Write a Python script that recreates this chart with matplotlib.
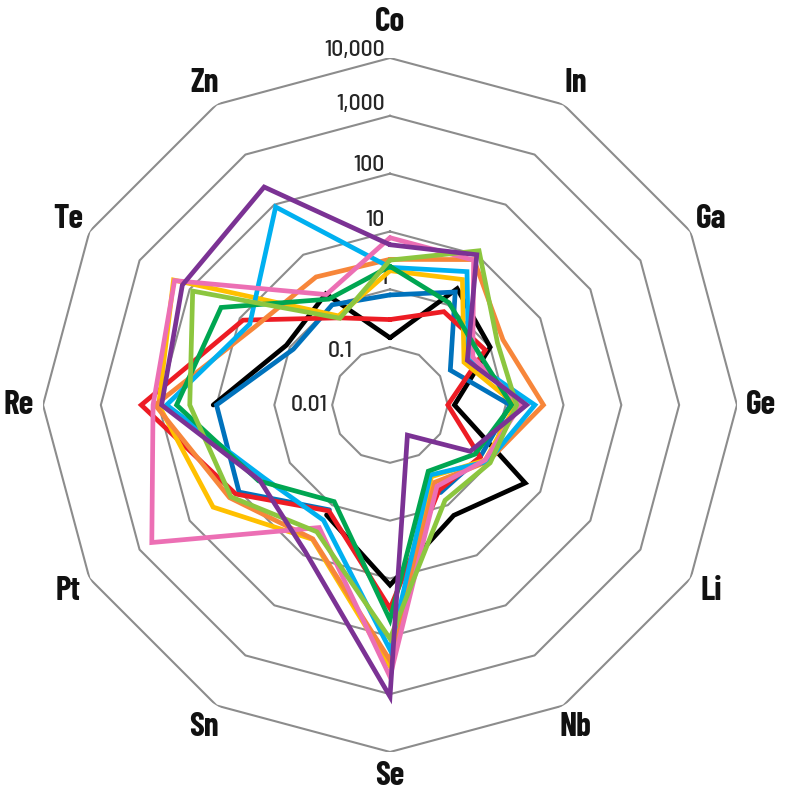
import numpy as np
import matplotlib
matplotlib.use("Agg")
import matplotlib.pyplot as plt

# axes, clockwise from the top
elementos = ["Co", "In", "Ga", "Ge", "Li", "Nb", "Se", "Sn", "Pt", "Re", "Te", "Zn"]

# values per series (nan = no value, the line is broken there)
morado = [5.9, 10, 0.35, 2.3, 0.4, 0.04, 1100, 8.5, 4.0, 89, 140, 225]
celeste = [2.4, 4.6, 0.37, 3.2, 0.9, 0.25, 170, 2.0, 3.3, 73, 6.3, 90]
rosa = [7.8, 7.8, 0.45, 1.8, 0.8, 0.42, 500, 2.8, 570, 125, 200, 1.6]
naranja = [3.3, 8.0, 1.8, 4.5, 0.9, 0.35, 260, 4.7, 16, 115, 5.0, 3.6]
amarillo = [2.1, 3.2, 0.3, 1.5, 0.8, 0.27, 330, 4.8, 34, 100, 210, 0.6]
rojo = [0.3, 0.73, 0.8, 0.1, 0.63, 0.5, 33, 1.3, 12, 200, 8.6, 0.55]
negro = [0.145, 2.1, 1.0, 0.13, 5.0, 1.6, 13, 1.57, np.nan, 11.4, 1.17, 1.66]
azul = [0.8, 1.8, 0.16, 1.2, 0.63, 0.56, np.nan, 1.24, 10.3, 10, 0.85, 1.0]
verde_osc = [2.5, 1.1, 0.6, 1.27, 0.5, 0.21, 52, 0.85, 4.2, 49, 23.6, 1.3]
verde_cla = [3.2, 12, 1.4, 1.55, 1.0, 0.8, 110, 3.4, 15, 29, 87, 0.54]

# ring values and their labels
anillos = [0.01, 0.1, 1, 10, 100, 1000, 10000]
etiquetas_anillos = ["0.01", "0.1", "1", "10", "100", "1,000", "10,000"]

series = [
    (negro, "#000000"),
    (azul, "#0072BC"),
    (rojo, "#ED1C24"),
    (amarillo, "#FFC000"),
    (naranja, "#F7863A"),
    (celeste, "#00B0F0"),
    (rosa, "#EC6FB4"),
    (verde_osc, "#00A651"),
    (verde_cla, "#8CC63F"),
    (morado, "#7B3294"),
]

# narrow fonts, DejaVu (condensed) if missing
fuente_cat = ["Barlow Condensed", "DejaVu Sans"]
fuente_num = ["Barlow Semi Condensed", "DejaVu Sans"]

n = len(elementos)
angulos = np.arange(n) * 2 * np.pi / n
ang_cerrado = np.append(angulos, angulos[0])
r_min = np.log10(anillos[0])


def a_radio(valores):
    return np.log10(np.array(valores, dtype=float)) - r_min


fig = plt.figure(figsize=(8, 7.92), dpi=100)
ax = fig.add_axes([0.05375, 0.0505, 0.8675, 0.8763], projection="polar")
ax.set_theta_zero_location("N")
ax.set_theta_direction(-1)
ax.set_ylim(0, a_radio([anillos[-1]])[0])
ax.grid(False)
ax.spines["polar"].set_visible(False)
ax.set_xticks([])
ax.set_yticks([])
ax.patch.set_alpha(0)

# polygon rings
for v in anillos[1:]:
    r = a_radio([v])[0]
    ax.plot(ang_cerrado, [r] * (n + 1), color="#8C8C8C", lw=1.5, zorder=1)

# ring labels (left of the vertical axis)
desplaz = {"0.01": (-45, 0), "0.1": (-27, -3), "1": (-2, 8), "10": (-4, 8),
           "100": (-4, 6), "1,000": (-4, 8.5), "10,000": (-4, 6)}
for v, txt in zip(anillos, etiquetas_anillos):
    r = a_radio([v])[0]
    ax.annotate(txt, xy=(0, r), xytext=desplaz[txt], textcoords="offset points",
                ha="right", va="center", fontsize=17, fontweight="medium",
                color="#262626", family=fuente_num, fontstretch="condensed",
                annotation_clip=False)

# series
for valores, color in series:
    vals = a_radio(valores)
    ax.plot(ang_cerrado, np.append(vals, vals[0]), color=color, lw=3.4,
            solid_joinstyle="miter", solid_capstyle="round", zorder=3)

# category labels (Co sits a little higher, above the 10,000 label)
r_lab = a_radio([anillos[-1]])[0] + 0.42
for ang, nombre in zip(angulos, elementos):
    extra = 0.2 if nombre == "Co" else 0
    ax.text(ang, r_lab + extra, nombre, ha="center", va="center", fontsize=24,
            fontweight="bold", family=fuente_cat, fontstretch="condensed",
            color="#111111")

fig.savefig("out.png", dpi=100)
